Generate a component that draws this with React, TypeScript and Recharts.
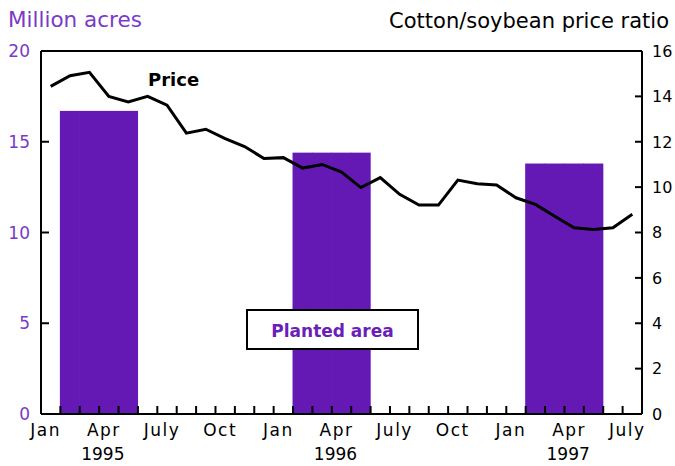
import React from 'react';
import { ComposedChart, Bar, Line, XAxis, YAxis, ReferenceLine } from 'recharts';

const months = ['Jan', 'Feb', 'Mar', 'Apr', 'May', 'Jun', 'Jul', 'Aug', 'Sep', 'Oct', 'Nov', 'Dec'];
const years = [1995, 1996, 1997];
const monthCount = 31; // Jan 1995 .. Jul 1997
const priceRatio = [
  14.44, 14.91, 15.06, 14.0, 13.76, 14.0, 13.61, 12.38, 12.55, 12.14, 11.79, 11.26,
  11.3, 10.84, 11.0, 10.66, 9.98, 10.42, 9.68, 9.21, 9.21, 10.31, 10.15, 10.09,
  9.53, 9.24, 8.72, 8.21, 8.13, 8.21, 8.8,
];
const plantedArea = [16.7, 14.4, 13.8];
const plantingMonths = ['Feb', 'Mar', 'Apr', 'May'];
const axisMonths = ['Jan', 'Apr', 'Jul', 'Oct'];
const axisMonthLabels = ['Jan', 'Apr', 'July', 'Oct'];
const yearLabelMonth = 'Apr';
const leftDomain = [0, 20];
const leftTicks = [0, 5, 10, 15, 20];
const rightDomain = [0, 16];
const rightTicks = [0, 2, 4, 6, 8, 10, 12, 14, 16];
const monthDomain = [0, monthCount];

// month boundaries (tick marks) and month centres (labels) on one numeric month axis
const boundaryTicks = Array.from({ length: monthCount - 1 }, (_, i) => i + 1);
const labelTicks = Array.from({ length: monthCount }, (_, i) => i)
  .filter((i) => axisMonths.includes(months[i % 12]))
  .map((i) => i + 0.5);

const data = priceRatio.slice(0, monthCount).map((price, i) => {
  const yi = Math.floor(i / 12);
  const month = months[i % 12];
  return {
    key: `${month} ${years[yi]}`,
    pos: i,
    price,
    area: plantingMonths.includes(month) ? plantedArea[yi] : null,
  };
});

const FONT = '"DejaVu Sans", sans-serif';
const BAR = '#6418b4';
const PURPLE = '#7a3ac8';
const axisLineStyle = { stroke: '#000', strokeWidth: 2 };

const LeftTick = (props: any) => {
  const { x, y, payload } = props;
  const ax = x + 11;
  return (
    <g>
      <line x1={ax} x2={ax + 8} y1={y} y2={y} stroke="#000" strokeWidth={2} />
      <text x={x} y={y} dy="0.36em" textAnchor="end" fill={PURPLE} fontSize={17} fontFamily={FONT}>
        {payload.value}
      </text>
    </g>
  );
};

const RightTick = (props: any) => {
  const { x, y, payload } = props;
  const ax = x - 10;
  return (
    <g>
      <line x1={ax - 7} x2={ax} y1={y} y2={y} stroke="#000" strokeWidth={2} />
      <text x={x} y={y} dy="0.36em" textAnchor="start" fill="#000" fontSize={16} fontFamily={FONT}>
        {payload.value}
      </text>
    </g>
  );
};

const MonthAxisTick = (props: any) => {
  const { x, y, payload } = props;
  const i = Math.floor(Number(payload.value));
  const m = months[i % 12];
  const yr = years[Math.floor(i / 12)];
  const idx = axisMonths.indexOf(m);
  if (idx < 0) return <g />;
  return (
    <g>
      <text
        x={x - 5}
        y={y + 22}
        textAnchor="middle"
        fill="#000"
        fontSize={17}
        letterSpacing={1.5}
        fontFamily={FONT}
      >
        {axisMonthLabels[idx]}
      </text>
      {m === yearLabelMonth && (
        <text x={x - 6} y={y + 46} textAnchor="middle" fill="#000" fontSize={17} fontFamily={FONT}>
          {yr}
        </text>
      )}
    </g>
  );
};

// Inward month-boundary tick: only the bottom few pixels of a vertical reference line.
const BoundaryMark = (props: any) => {
  const { x1, y1, y2 } = props;
  const yb = Math.max(Number(y1), Number(y2));
  return <line x1={x1} x2={x1} y1={yb} y2={yb - 8} stroke="#000" strokeWidth={2} />;
};

// Adjacent monthly bands overlap by one pixel so the season reads as one block.
const SeasonBar = (props: any) => {
  const { x, y, width, height, fill } = props;
  if (!height || height <= 0) return <g />;
  return <rect x={x - 0.5} y={y} width={width + 1} height={height} fill={fill} />;
};

const monthAxisTick = <MonthAxisTick />;
const leftTick = <LeftTick />;
const rightTick = <RightTick />;
const seasonBar = <SeasonBar />;

export default function App() {
  return (
    <div style={{ position: 'absolute', left: 0, top: 0, width: 675, height: 466, background: '#fff' }}>
      <ComposedChart
        width={675}
        height={466}
        data={data}
        margin={{ top: 51, right: 0, bottom: 0, left: 0 }}
        barCategoryGap={0}
        barGap={0}
      >
        <XAxis xAxisId="main" dataKey="key" type="category" hide height={0} />
        <XAxis
          xAxisId="months"
          dataKey="pos"
          type="number"
          domain={monthDomain}
          ticks={labelTicks}
          height={52}
          interval={0}
          axisLine={axisLineStyle}
          tickLine={false}
          tickSize={0}
          tickMargin={0}
          tick={monthAxisTick}
        />
        <YAxis
          yAxisId="left"
          orientation="left"
          width={41}
          domain={leftDomain}
          ticks={leftTicks}
          interval={0}
          axisLine={axisLineStyle}
          tickLine={false}
          tickSize={0}
          tickMargin={11}
          tick={leftTick}
        />
        <YAxis
          yAxisId="right"
          orientation="right"
          width={33}
          domain={rightDomain}
          ticks={rightTicks}
          interval={0}
          axisLine={axisLineStyle}
          tickLine={false}
          tickSize={0}
          tickMargin={10}
          tick={rightTick}
        />
        <Bar
          xAxisId="main"
          yAxisId="left"
          dataKey="area"
          fill={BAR}
          shape={seasonBar}
          isAnimationActive={false}
        />
        <Line
          xAxisId="main"
          yAxisId="right"
          dataKey="price"
          type="linear"
          stroke="#000"
          strokeWidth={3}
          dot={false}
          activeDot={false}
          isAnimationActive={false}
        />
        <ReferenceLine xAxisId="main" yAxisId="left" y={20} stroke="#000" strokeWidth={2} />
        <ReferenceLine xAxisId="main" yAxisId="left" y={0} stroke="#000" strokeWidth={2} />
        {boundaryTicks.map((b) => (
          <ReferenceLine
            key={b}
            xAxisId="months"
            yAxisId="left"
            x={b}
            stroke="#000"
            strokeWidth={2}
            shape={(p: any) => <BoundaryMark {...p} />}
          />
        ))}
      </ComposedChart>
      <svg
        width={675}
        height={466}
        style={{ position: 'absolute', left: 0, top: 0, pointerEvents: 'none' }}
      >
        <text x={8} y={27} fill={PURPLE} fontSize={21.5} fontFamily={FONT}>
          Million acres
        </text>
        <text x={669} y={28} textAnchor="end" fill="#000" fontSize={21} fontFamily={FONT}>
          Cotton/soybean price ratio
        </text>
        <text x={148} y={86} fill="#000" fontSize={18} fontWeight="bold" fontFamily={FONT}>
          Price
        </text>
        <rect x={247} y={310} width={171} height={39} fill="#fff" stroke="#000" strokeWidth={2} />
        <text x={332.5} y={337} textAnchor="middle" fill="#6a1fb8" fontSize={17} fontWeight="bold" fontFamily={FONT}>
          Planted area
        </text>
      </svg>
    </div>
  );
}
